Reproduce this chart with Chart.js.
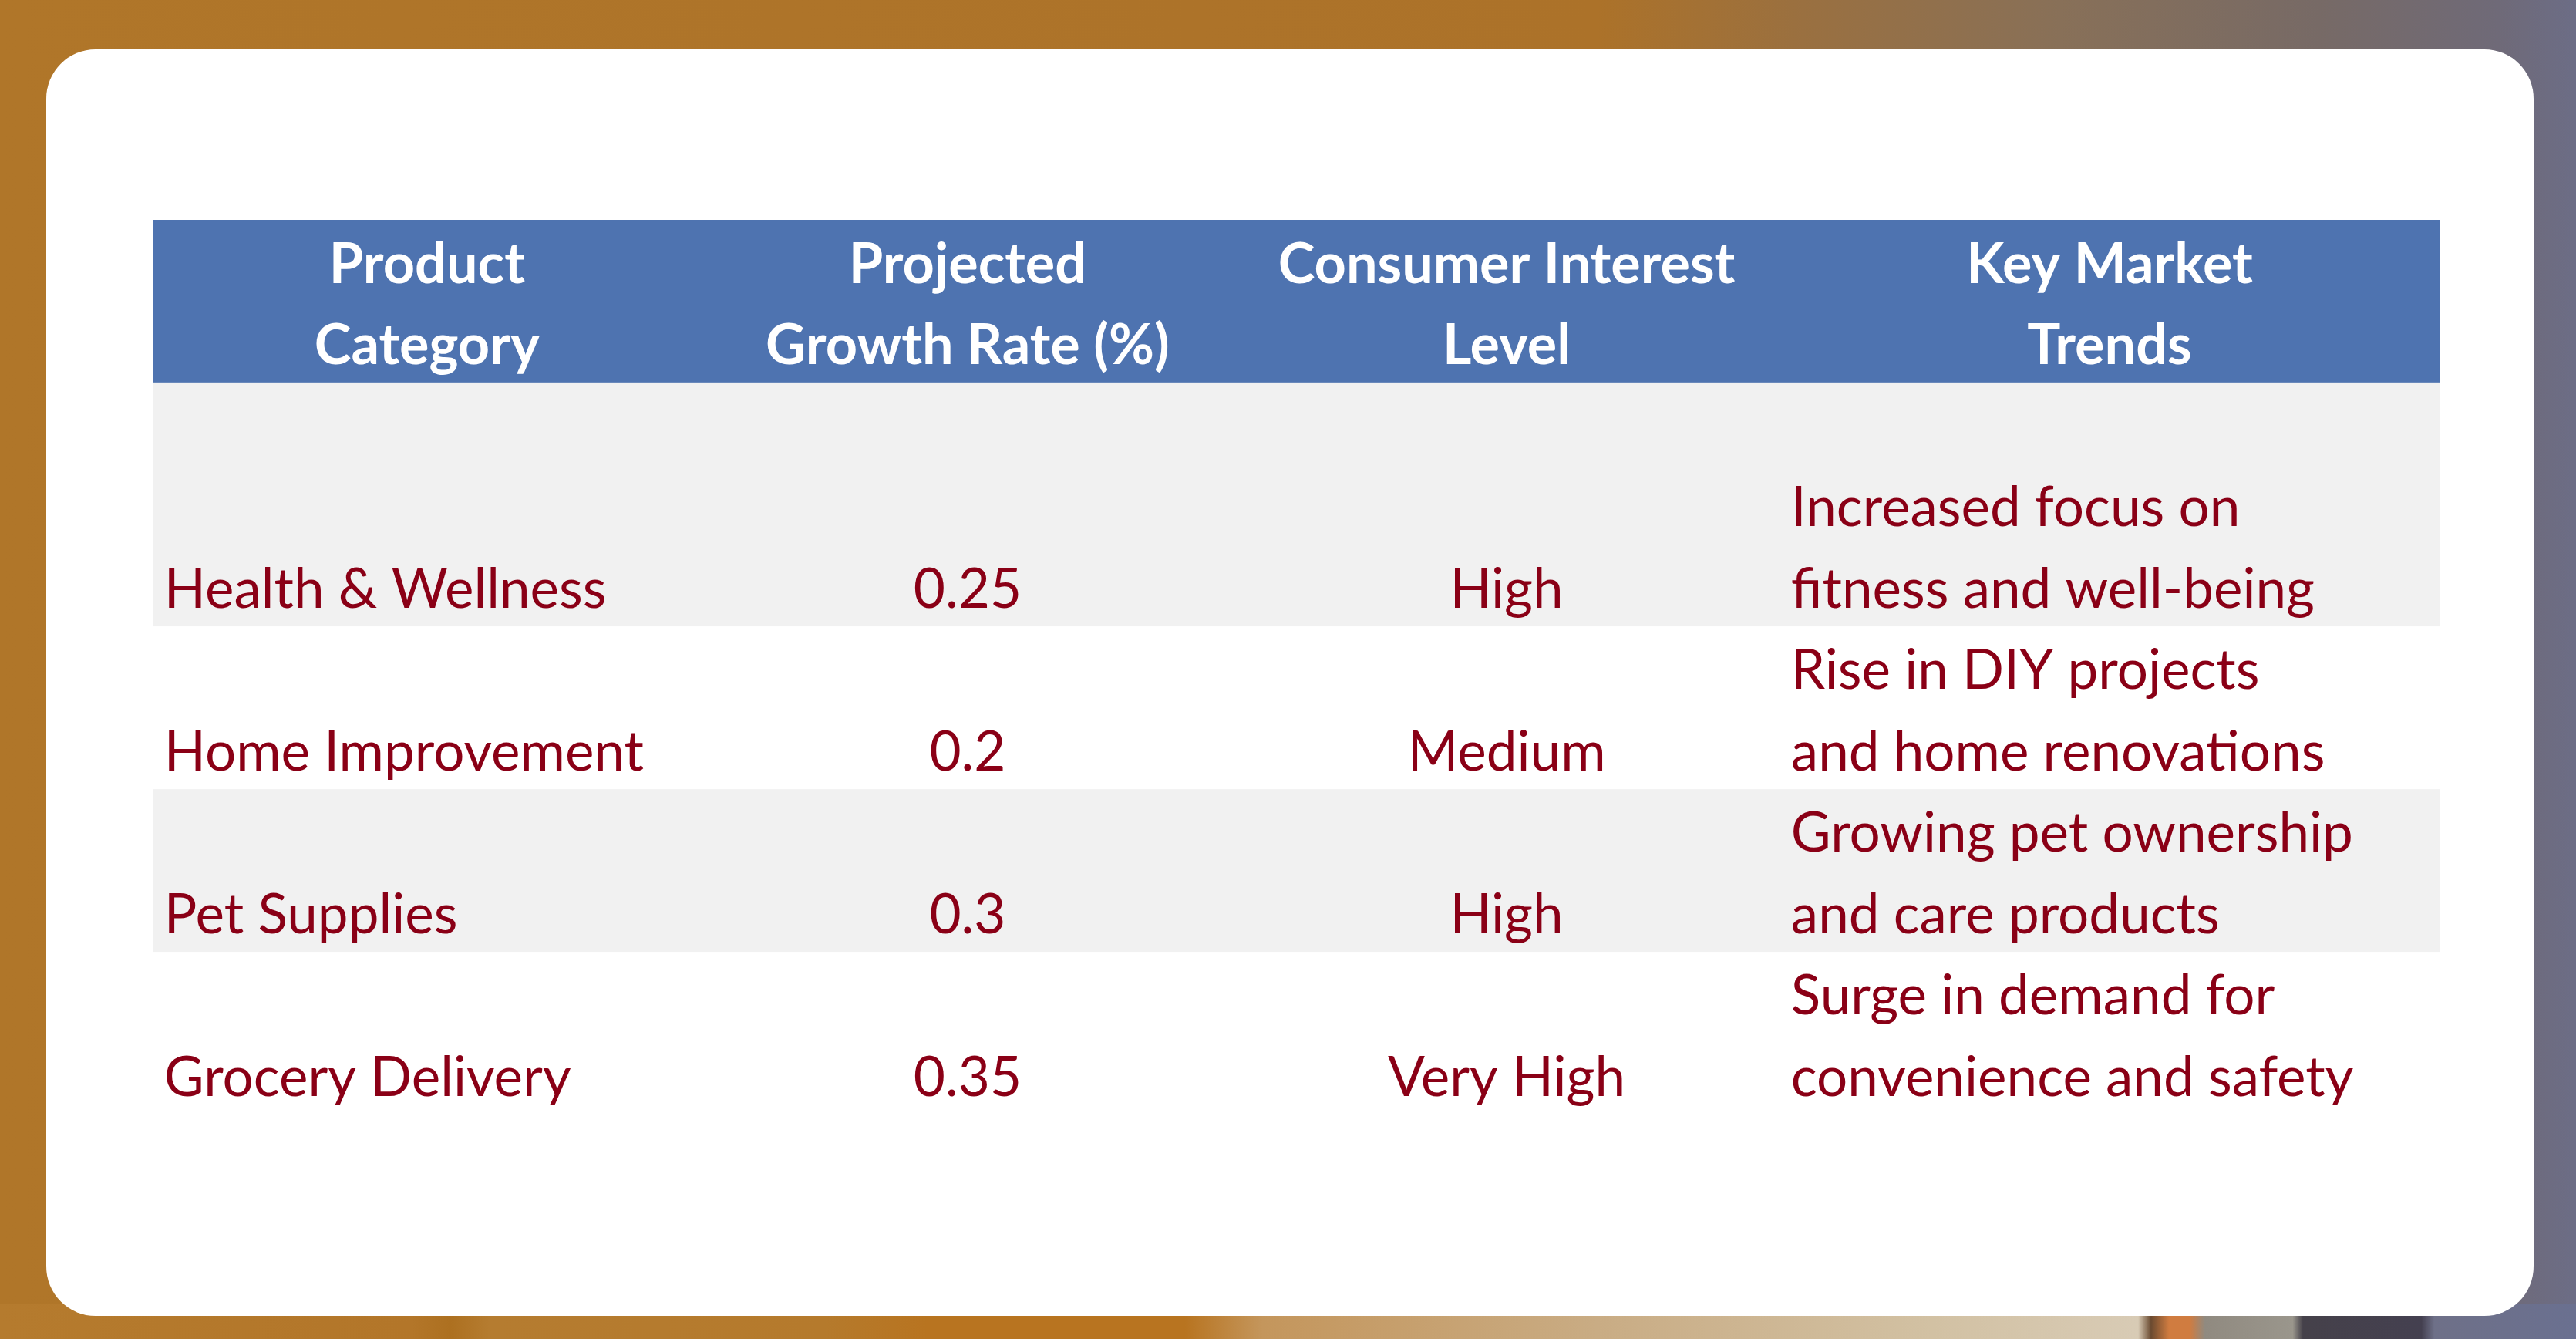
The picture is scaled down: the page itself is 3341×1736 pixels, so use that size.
<!DOCTYPE html>
<html>
<head>
<meta charset="utf-8">
<script src="https://cdn.jsdelivr.net/npm/chart.js@4.4.1/dist/chart.umd.min.js"></script>
<style>
  html, body { margin: 0; padding: 0; width: 3341px; height: 1736px; overflow: hidden; }
  body {
    position: relative;
    background: linear-gradient(90deg, #b07629 0%, #ac7229 62%, #9a7040 70%, #887058 80%, #776a66 90%, #6f6a78 97%, #6c6d86 100%);
  }
  #strip {
    position: absolute; left: 0; top: 1690px; width: 3341px; height: 46px;
    background: linear-gradient(90deg, #b57b2e 0%, #b37629 16%, #ad7020 17.5%, #b57c30 19%, #b57a2c 32%, #b87420 36%, #b87420 46%, #c4965c 49%, #c9ac84 62%, #d2c1a3 75%, #d8cbb5 83%, #6a4a30 83.5%, #d07c40 84.2%, #d07c40 85%, #908a80 85.6%, #9a968c 89%, #45414a 89.4%, #444050 94%, #6e7088 94.5%, #6a7090 100%);
  }
  #card {
    position: absolute; left: 60px; top: 64px; width: 3226px; height: 1642px;
    background: #ffffff; border-radius: 64px;
  }
  #table { position: absolute; left: 0; top: 0; }
</style>
</head>
<body>
<div id="strip"></div>
<div id="card"></div>
<canvas id="table" width="3341" height="1736"></canvas>
<script>
const headers = [
  ['Product', 'Category'],
  ['Projected', 'Growth Rate (%)'],
  ['Consumer Interest', 'Level'],
  ['Key Market', 'Trends']
];
const categories = ['Health & Wellness', 'Home Improvement', 'Pet Supplies', 'Grocery Delivery'];
const growthRates = [0.25, 0.2, 0.3, 0.35];
const interestLevels = ['High', 'Medium', 'High', 'Very High'];
const marketTrends = [
  ['Increased focus on', 'fitness and well-being'],
  ['Rise in DIY projects', 'and home renovations'],
  ['Growing pet ownership', 'and care products'],
  ['Surge in demand for', 'convenience and safety']
];

// table layout: x in percent of table width, y in text lines from the top
const colEdges = [0, 24.0, 47.27, 71.14, 100];
const textPad = 0.5;
const headerBand = [0, 2];
const rowBands = [[2, 5], [5, 7], [7, 9], [9, 11]];
const rowFills = ['#f1f1f1', '#ffffff', '#f1f1f1', '#ffffff'];
const headerFill = '#4e73b0';
const textColor = '#8a0016';
const fontSize = 71;
const headerFontSize = 72;

const colMid = c => (colEdges[c] + colEdges[c + 1]) / 2;

const headerPoints = headers.flatMap((lines, c) =>
  lines.map((t, k) => ({ x: colMid(c), y: headerBand[0] + k + 0.5, t })));
const categoryPoints = categories.map((t, i) => ({ x: colEdges[0] + textPad, y: rowBands[i][1] - 0.5, t }));
const growthPoints = growthRates.map((v, i) => ({ x: colMid(1), y: rowBands[i][1] - 0.5, t: String(v) }));
const interestPoints = interestLevels.map((t, i) => ({ x: colMid(2), y: rowBands[i][1] - 0.5, t }));
const trendPoints = marketTrends.flatMap((lines, i) =>
  lines.map((t, k) => ({ x: colEdges[3] + textPad, y: rowBands[i][1] - lines.length + k + 0.5, t })));

const tableCells = {
  id: 'tableCells',
  beforeDatasetsDraw(chart) {
    const { ctx, scales: { x, y } } = chart;
    const left = x.getPixelForValue(colEdges[0]);
    const right = x.getPixelForValue(colEdges[colEdges.length - 1]);
    ctx.save();
    ctx.fillStyle = headerFill;
    ctx.fillRect(left, y.getPixelForValue(headerBand[0]), right - left,
      y.getPixelForValue(headerBand[1]) - y.getPixelForValue(headerBand[0]));
    rowBands.forEach((band, i) => {
      ctx.fillStyle = rowFills[i];
      ctx.fillRect(left, y.getPixelForValue(band[0]), right - left,
        y.getPixelForValue(band[1]) - y.getPixelForValue(band[0]));
    });
    ctx.restore();
  },
  afterDatasetsDraw(chart) {
    const { ctx } = chart;
    ctx.save();
    chart.data.datasets.forEach((ds, i) => {
      const meta = chart.getDatasetMeta(i);
      ctx.font = `${ds.fontWeight} ${ds.fontSize}px Lato`;
      ctx.fillStyle = ds.textColor;
      ctx.textAlign = ds.textAlign;
      ctx.textBaseline = 'alphabetic';
      meta.data.forEach((pt, j) => {
        ctx.fillText(ds.data[j].t, pt.x, pt.y + ds.fontSize * 0.4);
      });
    });
    ctx.restore();
  }
};

function cellSet(label, data, textAlign, fontWeight, size, color) {
  return { label, data, textAlign, fontWeight, fontSize: size, textColor: color,
    pointRadius: 0, pointHoverRadius: 0, showLine: false };
}

function draw() {
  const ctx = document.getElementById('table').getContext('2d');
  new Chart(ctx, {
    type: 'scatter',
    data: {
      datasets: [
        cellSet('Header', headerPoints, 'center', 'bold', headerFontSize, '#ffffff'),
        cellSet('Product Category', categoryPoints, 'left', 'normal', fontSize, textColor),
        cellSet('Projected Growth Rate (%)', growthPoints, 'center', 'normal', fontSize, textColor),
        cellSet('Consumer Interest Level', interestPoints, 'center', 'normal', fontSize, textColor),
        cellSet('Key Market Trends', trendPoints, 'left', 'normal', fontSize, textColor)
      ]
    },
    options: {
      responsive: false,
      animation: false,
      devicePixelRatio: 1,
      layout: { padding: { left: 198, top: 285, right: 177, bottom: 291 } },
      scales: {
        x: { type: 'linear', display: false, min: 0, max: 100 },
        y: { type: 'linear', display: false, min: 0, max: 11, reverse: true }
      },
      plugins: {
        legend: { display: false },
        tooltip: { enabled: false }
      }
    },
    plugins: [tableCells]
  });
}

document.fonts.load(`${fontSize}px Lato`).then(() => document.fonts.load(`bold ${headerFontSize}px Lato`)).then(draw, draw);
</script>
</body>
</html>
